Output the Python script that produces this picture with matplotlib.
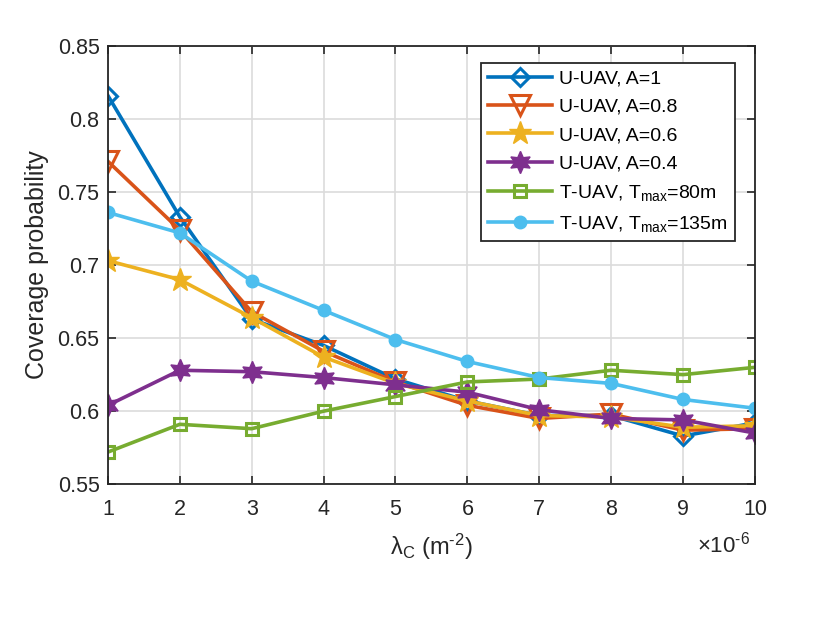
import matplotlib
matplotlib.use("Agg")
import matplotlib.pyplot as plt
import numpy as np

plt.rcParams['font.family'] = ['Liberation Sans', 'DejaVu Sans']
plt.rcParams['mathtext.fontset'] = 'custom'
plt.rcParams['mathtext.rm'] = 'Liberation Sans'
plt.rcParams['mathtext.it'] = 'Liberation Sans:italic'

lam = [1, 2, 3, 4, 5, 6, 7, 8, 9, 10]

u_a1 = [0.816, 0.733, 0.663, 0.645, 0.622, 0.607, 0.597, 0.597, 0.583, 0.592]
u_a08 = [0.771, 0.724, 0.668, 0.641, 0.620, 0.604, 0.595, 0.598, 0.587, 0.588]
u_a06 = [0.703, 0.690, 0.664, 0.637, 0.619, 0.607, 0.597, 0.596, 0.589, 0.590]
u_a04 = [0.604, 0.628, 0.627, 0.623, 0.618, 0.613, 0.601, 0.595, 0.594, 0.585]
t_80 = [0.572, 0.591, 0.588, 0.600, 0.610, 0.620, 0.622, 0.628, 0.625, 0.630]
t_135 = [0.736, 0.722, 0.689, 0.669, 0.649, 0.634, 0.623, 0.619, 0.608, 0.602]

labels = ['U-UAV, A=1', 'U-UAV, A=0.8', 'U-UAV, A=0.6', 'U-UAV, A=0.4',
          r'T-UAV, T$_{\rm max}$=80m', r'T-UAV, T$_{\rm max}$=135m']

fig = plt.figure(figsize=(8.3, 6.2), dpi=100)
ax = fig.add_axes([0.130, 0.219, 0.7796, 0.707])

lw = 2.6
hexagram = (6, 1, 0)
ax.plot(lam, u_a1, color='#0072BD', lw=lw, marker='D', ms=9, mew=2.2,
        mfc='none', label=labels[0])
ax.plot(lam, u_a08, color='#D95319', lw=lw, marker='v', ms=14, mew=2.2,
        mfc='none', label=labels[1])
ax.plot(lam, u_a06, color='#EDB120', lw=lw, marker='*', ms=17, mew=1,
        label=labels[2])
ax.plot(lam, u_a04, color='#7E2F8E', lw=lw, marker=hexagram, ms=16, mew=1,
        label=labels[3])
ax.plot(lam, t_80, color='#77AC30', lw=lw, marker='s', ms=9, mew=2.2,
        mfc='none', label=labels[4])
ax.plot(lam, t_135, color='#4DBEEE', lw=lw, marker='o', ms=9,
        label=labels[5])

ax.set_xlim(1, 10)
ax.set_ylim(0.55, 0.85)
ax.set_xticks(lam)
ax.set_yticks(np.arange(0.55, 0.851, 0.05))
ax.set_yticklabels(['0.55', '0.6', '0.65', '0.7', '0.75', '0.8', '0.85'])
ax.grid(True, color='#dcdcdc', lw=1.2)
ax.set_axisbelow(True)
ax.tick_params(direction='in', top=True, right=True, labelsize=15.5,
               length=6, width=1.2, colors='#262626')
ax.tick_params(axis='x', pad=11)
ax.tick_params(axis='y', pad=6)
for s in ax.spines.values():
    s.set_color('#262626')
    s.set_linewidth(1.3)

ax.set_xlabel('$\\mathrm{\\lambda}_{\\rm C}$ (m$^{\\rm \u2010 2}$)', fontsize=17,
              color='#262626', labelpad=8)
ax.set_ylabel('Coverage probability', fontsize=18, color='#262626', labelpad=6)
ax.text(0.992, -0.155, '$\\times$10$^{\\rm \u20106}$', transform=ax.transAxes,
        ha='right', va='baseline', fontsize=16, color='#262626')

leg = ax.legend(loc='upper right', bbox_to_anchor=(0.969, 0.961),
                borderaxespad=0, fontsize=14, handlelength=3.3, fancybox=False,
                framealpha=1, edgecolor='#262626', labelspacing=0.55,
                borderpad=0.35, handletextpad=0.4)
leg.get_frame().set_linewidth(1.3)

fig.savefig('out.png', dpi=100)
